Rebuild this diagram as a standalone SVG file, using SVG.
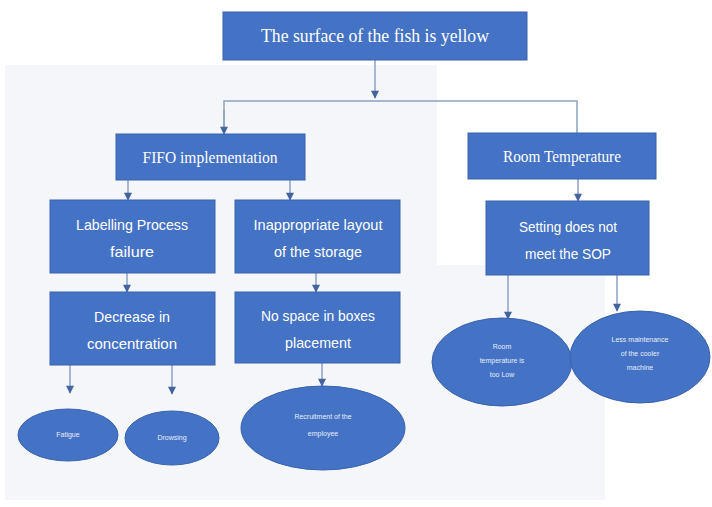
<svg xmlns="http://www.w3.org/2000/svg" width="712" height="507" viewBox="0 0 712 507">
<defs>
<marker id="ah" viewBox="0 0 10 10" refX="9" refY="5" markerWidth="9" markerHeight="8" orient="auto" markerUnits="userSpaceOnUse">
<path d="M0,0 L10,5 L0,10 z" fill="#44649f"/>
</marker>
<style>
.box{fill:#4472c4;stroke:#3a62ad;stroke-width:1}
.ell{fill:#4472c4;stroke:#3a62ad;stroke-width:1}
.serif{font-family:"Liberation Serif","Times New Roman",serif;fill:#fff;text-anchor:middle}
.sans{font-family:"Liberation Sans",Arial,sans-serif;fill:#fff;text-anchor:middle}
.small{font-family:"Liberation Sans",Arial,sans-serif;fill:#e8eefa;text-anchor:middle;font-size:7px}
.conn{stroke:#8ea2c4;stroke-width:1.5;fill:none}
.ar{stroke:#8ea2c4;stroke-width:1.5;fill:none;marker-end:url(#ah)}
</style>
</defs>
<rect x="0" y="0" width="712" height="507" fill="#ffffff"/>
<rect x="5" y="65" width="432" height="435" fill="#f4f6fa"/>
<rect x="437" y="265" width="168" height="235" fill="#f4f6fa"/>

<g id="connectors">
<line class="ar" x1="375" y1="60" x2="375" y2="98"/>
<polyline class="conn" points="224,134 224,101 577,101 577,133"/>
<line class="ar" x1="224" y1="110" x2="224" y2="134"/>
<line class="ar" x1="128" y1="180" x2="128" y2="200"/>
<line class="ar" x1="290" y1="180" x2="290" y2="200"/>
<line class="ar" x1="578" y1="179" x2="578" y2="201"/>
<line class="ar" x1="127" y1="273" x2="127" y2="292"/>
<line class="ar" x1="316" y1="273" x2="316" y2="292"/>
<line class="ar" x1="70" y1="365" x2="70" y2="393"/>
<line class="ar" x1="172" y1="365" x2="172" y2="394"/>
<line class="ar" x1="322" y1="363" x2="322" y2="386"/>
<line class="ar" x1="508" y1="275" x2="508" y2="319"/>
<line class="ar" x1="617" y1="275" x2="617" y2="311"/>
</g>

<g id="n-top">
<rect class="box" x="223" y="12" width="304" height="48"/>
<text class="serif" x="375" y="42" font-size="18" textLength="228" lengthAdjust="spacingAndGlyphs">The surface of the fish is yellow</text>
</g>
<g id="n-fifo">
<rect class="box" x="116" y="134" width="189" height="46"/>
<text class="serif" x="210" y="163" font-size="17" textLength="135" lengthAdjust="spacingAndGlyphs">FIFO implementation</text>
</g>
<g id="n-room">
<rect class="box" x="468" y="133" width="188" height="46"/>
<text class="serif" x="562" y="162" font-size="17" textLength="118" lengthAdjust="spacingAndGlyphs">Room Temperature</text>
</g>
<g id="n-label">
<rect class="box" x="50" y="200" width="165" height="73"/>
<text class="sans" x="132" y="230" font-size="15" textLength="112" lengthAdjust="spacingAndGlyphs">Labelling Process</text>
<text class="sans" x="132" y="257" font-size="15" textLength="44" lengthAdjust="spacingAndGlyphs">failure</text>
</g>
<g id="n-layout">
<rect class="box" x="235" y="200" width="165" height="73"/>
<text class="sans" x="318" y="230" font-size="15" textLength="129" lengthAdjust="spacingAndGlyphs">Inappropriate layout</text>
<text class="sans" x="318" y="257" font-size="15" textLength="88" lengthAdjust="spacingAndGlyphs">of the storage</text>
</g>
<g id="n-setting">
<rect class="box" x="486" y="201" width="163" height="74"/>
<text class="sans" x="568" y="232" font-size="15" textLength="98" lengthAdjust="spacingAndGlyphs">Setting does not</text>
<text class="sans" x="568" y="259" font-size="15" textLength="86" lengthAdjust="spacingAndGlyphs">meet the SOP</text>
</g>
<g id="n-decrease">
<rect class="box" x="50" y="292" width="165" height="73"/>
<text class="sans" x="132" y="322" font-size="15" textLength="76" lengthAdjust="spacingAndGlyphs">Decrease in</text>
<text class="sans" x="132" y="349" font-size="15" textLength="90" lengthAdjust="spacingAndGlyphs">concentration</text>
</g>
<g id="n-nospace">
<rect class="box" x="235" y="292" width="165" height="71"/>
<text class="sans" x="318" y="321" font-size="15" textLength="114" lengthAdjust="spacingAndGlyphs">No space in boxes</text>
<text class="sans" x="318" y="348" font-size="15" textLength="66" lengthAdjust="spacingAndGlyphs">placement</text>
</g>
<g id="n-fatigue">
<ellipse class="ell" cx="68" cy="435" rx="50" ry="26"/>
<text class="small" x="68" y="437">Fatigue</text>
</g>
<g id="n-drowsing">
<ellipse class="ell" cx="172" cy="438" rx="47" ry="27"/>
<text class="small" x="172" y="440">Drowsing</text>
</g>
<g id="n-recruit">
<ellipse class="ell" cx="323" cy="428" rx="82" ry="42"/>
<text class="small" x="323" y="419">Recruitment of the</text>
<text class="small" x="323" y="436">employee</text>
</g>
<g id="n-roomlow">
<ellipse class="ell" cx="502" cy="362" rx="70" ry="44"/>
<text class="small" x="502" y="349">Room</text>
<text class="small" x="502" y="363">temperature is</text>
<text class="small" x="502" y="377">too Low</text>
</g>
<g id="n-maint">
<ellipse class="ell" cx="640" cy="357" rx="70" ry="46"/>
<text class="small" x="640" y="342">Less maintenance</text>
<text class="small" x="640" y="356">of the cooler</text>
<text class="small" x="640" y="370">machine</text>
</g>
</svg>
